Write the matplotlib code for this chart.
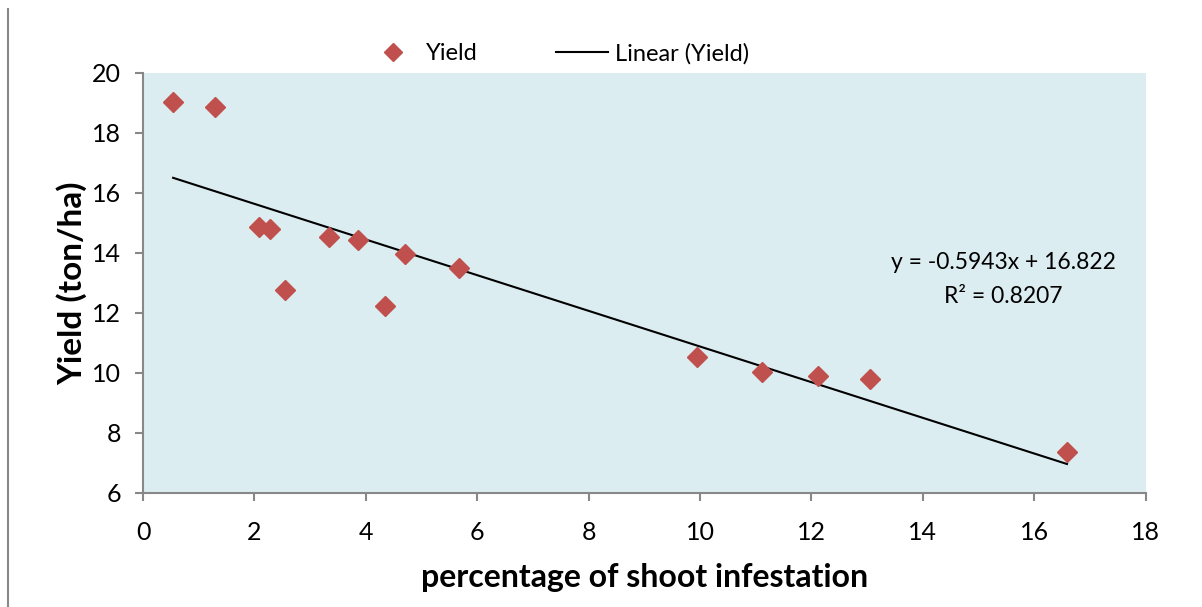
import matplotlib.pyplot as plt
from matplotlib.lines import Line2D
import numpy as np

# data
infestation = [0.54, 1.29, 2.08, 2.28, 2.55, 3.34, 3.86, 4.34, 4.70, 5.67,
               9.95, 11.11, 12.12, 13.05, 16.59]
yield_t = [19.03, 18.87, 14.87, 14.80, 12.77, 14.53, 14.43, 12.23, 13.97, 13.50,
           10.53, 10.03, 9.90, 9.80, 7.37]
slope = -0.5943
intercept = 16.822
r2 = 0.8207

plt.rcParams['font.family'] = ['Lato', 'DejaVu Sans']

fig = plt.figure(figsize=(12.02, 6.07), dpi=100)
ax = fig.add_axes([0.119, 0.188, 0.834, 0.692])
ax.set_facecolor('#dcedf1')

ax.plot(infestation, yield_t, 'D', color='#c0504d', markersize=10, label='Yield', zorder=3)
xl = np.array([min(infestation), max(infestation)])
ax.plot(xl, slope * xl + intercept, color='black', lw=1.5, label='Linear (Yield)', zorder=2)

ax.set_xlim(0, 18)
ax.set_ylim(6, 20)
ax.set_xticks(range(0, 19, 2))
ax.set_yticks(range(6, 21, 2))
for s in ['top', 'right']:
    ax.spines[s].set_visible(False)
for s in ['left', 'bottom']:
    ax.spines[s].set_color('#888888')
    ax.spines[s].set_linewidth(1.5)
ax.tick_params(colors='#888888', labelcolor='black', labelsize=18, length=6, width=1.5)
ax.tick_params(axis='x', pad=14)
ax.tick_params(axis='y', pad=10)

ax.set_xlabel('percentage of shoot infestation', fontsize=23, fontweight='bold', labelpad=14)
ax.set_ylabel('Yield (ton/ha)', fontsize=24, fontweight='bold', labelpad=3)

ax.text(15.45, 13.1, 'y = -0.5943x + 16.822\nR² = 0.8207', ha='center', va='center',
        fontsize=16.5, linespacing=1.75)

ax.legend(loc='lower center', bbox_to_anchor=(0.414, 0.97), ncol=2, frameon=False,
          fontsize=17, columnspacing=3.3, handlelength=2.2, handletextpad=0.3,
          markerscale=0.9)

fig.add_artist(Line2D([0.007, 0.007], [0.0, 0.985], color='#888888', lw=1.5))

fig.savefig('out.png', dpi=100)
